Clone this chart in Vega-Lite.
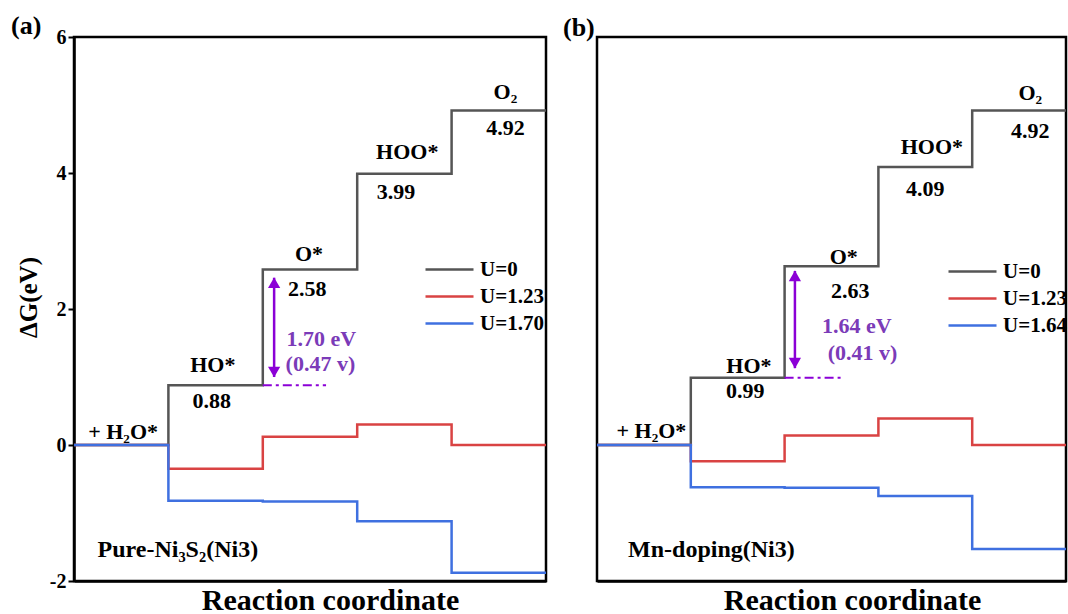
{
  "$schema": "https://vega.github.io/schema/vega-lite/v6.json",
  "padding": {"left": 9, "top": 11, "right": 0, "bottom": 0},
  "spacing": 8,
  "config": {
    "view": {"stroke": "black", "strokeWidth": 2.5},
    "font": "Liberation Serif",
    "title": {"font": "Liberation Serif", "fontSize": 26, "fontWeight": "bold", "color": "black", "anchor": "start", "frame": "group", "offset": -12}
  },
  "datasets": {
    "lineA": [
      {"series": "U=0", "x": 0, "y": 0}, {"series": "U=0", "x": 1, "y": 0.88}, {"series": "U=0", "x": 2, "y": 2.58}, {"series": "U=0", "x": 3, "y": 3.99}, {"series": "U=0", "x": 4, "y": 4.92}, {"series": "U=0", "x": 5, "y": 4.92},
      {"series": "U=1.23", "x": 0, "y": 0}, {"series": "U=1.23", "x": 1, "y": -0.35}, {"series": "U=1.23", "x": 2, "y": 0.12}, {"series": "U=1.23", "x": 3, "y": 0.30}, {"series": "U=1.23", "x": 4, "y": 0}, {"series": "U=1.23", "x": 5, "y": 0},
      {"series": "U=1.70", "x": 0, "y": 0}, {"series": "U=1.70", "x": 1, "y": -0.82}, {"series": "U=1.70", "x": 2, "y": -0.83}, {"series": "U=1.70", "x": 3, "y": -1.12}, {"series": "U=1.70", "x": 4, "y": -1.88}, {"series": "U=1.70", "x": 5, "y": -1.88}
    ],
    "lineB": [
      {"series": "U=0", "x": 0, "y": 0}, {"series": "U=0", "x": 1, "y": 0.99}, {"series": "U=0", "x": 2, "y": 2.63}, {"series": "U=0", "x": 3, "y": 4.09}, {"series": "U=0", "x": 4, "y": 4.92}, {"series": "U=0", "x": 5, "y": 4.92},
      {"series": "U=1.23", "x": 0, "y": 0}, {"series": "U=1.23", "x": 1, "y": -0.24}, {"series": "U=1.23", "x": 2, "y": 0.14}, {"series": "U=1.23", "x": 3, "y": 0.39}, {"series": "U=1.23", "x": 4, "y": 0}, {"series": "U=1.23", "x": 5, "y": 0},
      {"series": "U=1.64", "x": 0, "y": 0}, {"series": "U=1.64", "x": 1, "y": -0.62}, {"series": "U=1.64", "x": 2, "y": -0.63}, {"series": "U=1.64", "x": 3, "y": -0.75}, {"series": "U=1.64", "x": 4, "y": -1.53}, {"series": "U=1.64", "x": 5, "y": -1.53}
    ],
    "textA": [
      {"t": "+ H₂O*", "x": 0.52, "y": 0.19}, {"t": "HO*", "x": 1.47, "y": 1.18}, {"t": "0.88", "x": 1.46, "y": 0.65},
      {"t": "O*", "x": 2.49, "y": 2.81}, {"t": "2.58", "x": 2.47, "y": 2.29}, {"t": "HOO*", "x": 3.53, "y": 4.31},
      {"t": "3.99", "x": 3.41, "y": 3.72}, {"t": "O₂", "x": 4.57, "y": 5.19}, {"t": "4.92", "x": 4.57, "y": 4.66}
    ],
    "textB": [
      {"t": "+ H₂O*", "x": 0.58, "y": 0.21}, {"t": "HO*", "x": 1.62, "y": 1.16}, {"t": "0.99", "x": 1.58, "y": 0.79},
      {"t": "O*", "x": 2.63, "y": 2.76}, {"t": "2.63", "x": 2.70, "y": 2.26}, {"t": "HOO*", "x": 3.57, "y": 4.38},
      {"t": "4.09", "x": 3.50, "y": 3.77}, {"t": "O₂", "x": 4.62, "y": 5.18}, {"t": "4.92", "x": 4.62, "y": 4.62}
    ],
    "nameA": [{"t": "Pure-Ni₃S₂(Ni3)", "x": 1.10, "y": -1.55}],
    "nameB": [{"t": "Mn-doping(Ni3)", "x": 1.22, "y": -1.55}],
    "purpleA": [{"t": "1.70 eV", "x": 2.62, "y": 1.56}, {"t": "(0.47 v)", "x": 2.61, "y": 1.19}],
    "purpleB": [{"t": "1.64 eV", "x": 2.77, "y": 1.75}, {"t": "(0.41 v)", "x": 2.83, "y": 1.35}],
    "arrowA": [{"x": 2.12, "y": 1.0, "ytop": 2.46}],
    "arrowB": [{"x": 2.11, "y": 1.13, "ytop": 2.56}],
    "dashA": [{"x": 2.0, "xe": 2.67, "y": 0.88}],
    "dashB": [{"x": 2.0, "xe": 2.61, "y": 0.99}]
  },
  "hconcat": [
    {
      "width": 472,
      "height": 544,
      "title": {"text": "(a)", "dx": -63},
      "layer": [
        {
          "data": {"name": "lineA"},
          "mark": {"type": "line", "interpolate": "step-after", "strokeWidth": 2.5},
          "encoding": {
            "x": {"field": "x", "type": "quantitative", "scale": {"domain": [0, 5], "nice": false, "zero": false},
              "axis": {"title": "Reaction coordinate", "ticks": false, "labels": false, "grid": false, "domainColor": "black", "domainWidth": 2.5, "titleFontSize": 30, "titleFont": "Liberation Serif", "titleFontWeight": "bold", "titleColor": "black", "titlePadding": 4, "titleX": 256}},
            "y": {"field": "y", "type": "quantitative", "scale": {"domain": [-2, 6], "nice": false},
              "axis": {"title": "ΔG(eV)", "values": [-2, 0, 2, 4, 6], "labelExpr": "'' + datum.value", "grid": false, "labelFontSize": 20, "labelFont": "Liberation Serif", "labelFontWeight": "bold", "labelColor": "black", "tickColor": "black", "tickSize": 6, "tickWidth": 2, "labelPadding": 2, "domainColor": "black", "domainWidth": 2.5, "titleFontSize": 25, "titleFont": "Liberation Serif", "titleFontWeight": "bold", "titleColor": "black", "titlePadding": 8, "titleY": 260}},
            "color": {"field": "series", "type": "nominal",
              "scale": {"domain": ["U=0", "U=1.23", "U=1.70"], "range": ["#555555", "#D94343", "#3F70E0"]},
              "legend": {"orient": "none", "legendX": 362, "legendY": 219, "title": null, "symbolType": "M-2,0H2", "symbolSize": 576, "symbolStrokeWidth": 2.5, "labelFontSize": 21, "labelFont": "Liberation Serif", "labelFontWeight": "bold", "labelColor": "black", "labelOffset": 17, "rowPadding": 3}}
          }
        },
        {
          "data": {"name": "dashA"},
          "mark": {"type": "rule", "color": "#8B00D6", "strokeWidth": 2, "strokeDash": [9, 4, 3, 4]},
          "encoding": {"x": {"field": "x", "type": "quantitative"}, "x2": {"field": "xe"}, "y": {"field": "y", "type": "quantitative"}}
        },
        {
          "data": {"name": "arrowA"},
          "mark": {"type": "rule", "color": "#8B00D6", "strokeWidth": 2.5},
          "encoding": {"x": {"field": "x", "type": "quantitative"}, "y": {"field": "y", "type": "quantitative"}, "y2": {"field": "ytop"}}
        },
        {
          "data": {"name": "arrowA"},
          "mark": {"type": "point", "shape": "triangle-down", "filled": true, "color": "#8B00D6", "size": 150, "opacity": 1, "yOffset": -5},
          "encoding": {"x": {"field": "x", "type": "quantitative"}, "y": {"field": "y", "type": "quantitative"}}
        },
        {
          "data": {"name": "arrowA"},
          "mark": {"type": "point", "shape": "triangle-up", "filled": true, "color": "#8B00D6", "size": 150, "opacity": 1, "yOffset": 5},
          "encoding": {"x": {"field": "x", "type": "quantitative"}, "y": {"field": "ytop", "type": "quantitative"}}
        },
        {
          "data": {"name": "textA"},
          "mark": {"type": "text", "font": "Liberation Serif", "fontSize": 22, "fontWeight": "bold", "color": "black", "align": "center", "baseline": "middle"},
          "encoding": {"x": {"field": "x", "type": "quantitative"}, "y": {"field": "y", "type": "quantitative"}, "text": {"field": "t"}}
        },
        {
          "data": {"name": "nameA"},
          "mark": {"type": "text", "font": "Liberation Serif", "fontSize": 24, "fontWeight": "bold", "color": "black", "align": "center", "baseline": "middle"},
          "encoding": {"x": {"field": "x", "type": "quantitative"}, "y": {"field": "y", "type": "quantitative"}, "text": {"field": "t"}}
        },
        {
          "data": {"name": "purpleA"},
          "mark": {"type": "text", "font": "Liberation Serif", "fontSize": 22, "fontWeight": "bold", "color": "#7B3BB8", "align": "center", "baseline": "middle"},
          "encoding": {"x": {"field": "x", "type": "quantitative"}, "y": {"field": "y", "type": "quantitative"}, "text": {"field": "t"}}
        }
      ]
    },
    {
      "width": 469,
      "height": 544,
      "title": {"text": "(b)", "dx": -34, "offset": -4},
      "layer": [
        {
          "data": {"name": "lineB"},
          "mark": {"type": "line", "interpolate": "step-after", "strokeWidth": 2.5},
          "encoding": {
            "x": {"field": "x", "type": "quantitative", "scale": {"domain": [0, 5], "nice": false, "zero": false},
              "axis": {"title": "Reaction coordinate", "ticks": false, "labels": false, "grid": false, "domainColor": "black", "domainWidth": 2.5, "titleFontSize": 30, "titleFont": "Liberation Serif", "titleFontWeight": "bold", "titleColor": "black", "titlePadding": 4, "titleX": 255}},
            "y": {"field": "y", "type": "quantitative", "scale": {"domain": [-2, 6], "nice": false}, "axis": null},
            "color": {"field": "series", "type": "nominal",
              "scale": {"domain": ["U=0", "U=1.23", "U=1.64"], "range": ["#555555", "#D94343", "#3F70E0"]},
              "legend": {"orient": "none", "legendX": 362, "legendY": 221, "title": null, "symbolType": "M-2,0H2", "symbolSize": 576, "symbolStrokeWidth": 2.5, "labelFontSize": 21, "labelFont": "Liberation Serif", "labelFontWeight": "bold", "labelColor": "black", "labelOffset": 17, "rowPadding": 3}}
          }
        },
        {
          "data": {"name": "dashB"},
          "mark": {"type": "rule", "color": "#8B00D6", "strokeWidth": 2, "strokeDash": [9, 4, 3, 4]},
          "encoding": {"x": {"field": "x", "type": "quantitative"}, "x2": {"field": "xe"}, "y": {"field": "y", "type": "quantitative"}}
        },
        {
          "data": {"name": "arrowB"},
          "mark": {"type": "rule", "color": "#8B00D6", "strokeWidth": 2.5},
          "encoding": {"x": {"field": "x", "type": "quantitative"}, "y": {"field": "y", "type": "quantitative"}, "y2": {"field": "ytop"}}
        },
        {
          "data": {"name": "arrowB"},
          "mark": {"type": "point", "shape": "triangle-down", "filled": true, "color": "#8B00D6", "size": 150, "opacity": 1, "yOffset": -5},
          "encoding": {"x": {"field": "x", "type": "quantitative"}, "y": {"field": "y", "type": "quantitative"}}
        },
        {
          "data": {"name": "arrowB"},
          "mark": {"type": "point", "shape": "triangle-up", "filled": true, "color": "#8B00D6", "size": 150, "opacity": 1, "yOffset": 5},
          "encoding": {"x": {"field": "x", "type": "quantitative"}, "y": {"field": "ytop", "type": "quantitative"}}
        },
        {
          "data": {"name": "textB"},
          "mark": {"type": "text", "font": "Liberation Serif", "fontSize": 22, "fontWeight": "bold", "color": "black", "align": "center", "baseline": "middle"},
          "encoding": {"x": {"field": "x", "type": "quantitative"}, "y": {"field": "y", "type": "quantitative"}, "text": {"field": "t"}}
        },
        {
          "data": {"name": "nameB"},
          "mark": {"type": "text", "font": "Liberation Serif", "fontSize": 24, "fontWeight": "bold", "color": "black", "align": "center", "baseline": "middle"},
          "encoding": {"x": {"field": "x", "type": "quantitative"}, "y": {"field": "y", "type": "quantitative"}, "text": {"field": "t"}}
        },
        {
          "data": {"name": "purpleB"},
          "mark": {"type": "text", "font": "Liberation Serif", "fontSize": 22, "fontWeight": "bold", "color": "#7B3BB8", "align": "center", "baseline": "middle"},
          "encoding": {"x": {"field": "x", "type": "quantitative"}, "y": {"field": "y", "type": "quantitative"}, "text": {"field": "t"}}
        }
      ]
    }
  ],
  "resolve": {"scale": {"color": "independent"}, "legend": {"color": "independent"}}
}
